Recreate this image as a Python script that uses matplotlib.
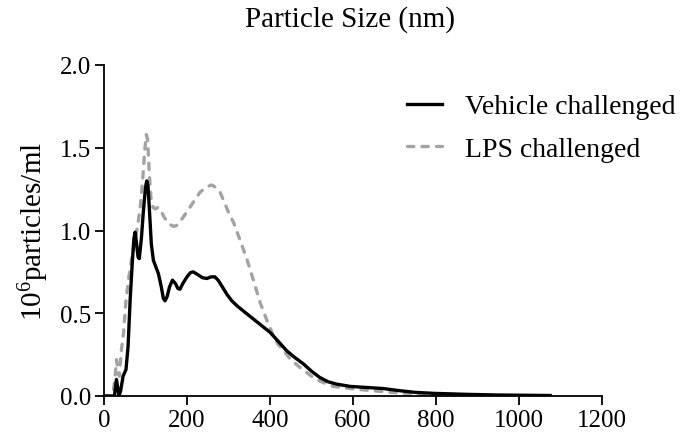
import matplotlib
matplotlib.use("Agg")
import matplotlib.pyplot as plt

# Data
vehicle_x = [0, 25, 30, 36, 40, 46, 53, 58, 63, 68, 72, 75, 78, 82, 85, 90, 95, 100, 103, 106,
             110, 114, 119, 125, 131, 138, 143, 147, 152, 158, 165, 172, 178, 183, 190, 200, 208,
             215, 225, 237, 248, 258, 267, 275, 285, 296, 308, 320, 340, 360, 380, 400, 420, 440,
             460, 480, 500, 520, 540, 560, 593, 630, 673, 713, 750, 794, 874, 950, 1075]
vehicle_y = [0, 0, 0.10, 0.0, 0.03, 0.12, 0.16, 0.30, 0.58, 0.80, 0.95, 0.99, 0.93, 0.84, 0.83,
             0.95, 1.12, 1.26, 1.30, 1.27, 1.10, 0.92, 0.82, 0.78, 0.74, 0.66, 0.59, 0.575, 0.60,
             0.66, 0.70, 0.68, 0.65, 0.645, 0.68, 0.72, 0.745, 0.75, 0.735, 0.715, 0.71, 0.72,
             0.72, 0.70, 0.66, 0.615, 0.575, 0.546, 0.505, 0.465, 0.425, 0.385, 0.33, 0.274,
             0.232, 0.195, 0.15, 0.112, 0.086, 0.072, 0.058, 0.052, 0.045, 0.032, 0.022, 0.016,
             0.01, 0.006, 0.003]

lps_x = [0, 18, 22, 27, 30, 34, 37, 42, 47, 53, 60, 66, 71, 78, 84, 88, 93, 98, 102, 105, 109,
         113, 118, 124, 130, 137, 145, 152, 160, 168, 175, 185, 199, 215, 231, 245, 259, 270,
         280, 290, 300, 312, 328, 344, 360, 376, 392, 408, 420, 433, 450, 472, 500, 520, 552,
         593, 630, 673, 713, 753, 794, 850]
lps_y = [0, 0, 0.02, 0.12, 0.22, 0.15, 0.12, 0.28, 0.38, 0.58, 0.72, 0.82, 0.89, 0.98, 1.08,
         1.16, 1.30, 1.48, 1.58, 1.55, 1.35, 1.20, 1.14, 1.13, 1.14, 1.12, 1.08, 1.055, 1.035,
         1.025, 1.03, 1.06, 1.11, 1.17, 1.23, 1.26, 1.275, 1.26, 1.23, 1.17, 1.11, 1.05, 0.94,
         0.83, 0.70, 0.566, 0.46, 0.365, 0.31, 0.274, 0.22, 0.173, 0.12, 0.09, 0.058, 0.045,
         0.036, 0.026, 0.018, 0.012, 0.005, 0.002]

x_ticks = [0, 200, 400, 600, 800, 1000, 1200]
y_ticks = [0.0, 0.5, 1.0, 1.5, 2.0]
series_labels = ["Vehicle challenged", "LPS challenged"]
title = "Particle Size (nm)"
ylabel = r"$\mathregular{10^6}$particles/ml"

plt.rcParams['font.family'] = ['Liberation Serif', 'DejaVu Serif']
plt.rcParams['mathtext.fontset'] = 'custom'
plt.rcParams['mathtext.rm'] = 'Liberation Serif'

fig = plt.figure(figsize=(6.85, 4.39), dpi=100)
ax = fig.add_axes([104/685, 42/439, (602-104)/685, (397-66)/439])

ax.plot(vehicle_x, vehicle_y, color='black', lw=2.4, label=series_labels[0], zorder=3,
        solid_joinstyle='round')
ax.plot(lps_x, lps_y, color='#a3a3a3', lw=2.4, ls=(0, (1.9, 2.45)), dash_capstyle='round',
        label=series_labels[1], zorder=2)

ax.set_xlim(0, 1200)
ax.set_ylim(0, 2.0)
ax.set_xticks(x_ticks)
ax.set_yticks(y_ticks)
ax.set_yticklabels([f"{v:.1f}" for v in y_ticks])
for s in ['top', 'right']:
    ax.spines[s].set_visible(False)
for s in ['left', 'bottom']:
    ax.spines[s].set_linewidth(1.3)
ax.tick_params(direction='out', length=6.5, width=1.3, labelsize=18, pad=3)

ax.set_ylabel(ylabel, fontsize=21, labelpad=6)
fig.text(350/685, 1 - 20/439, title, ha='center', va='center', fontsize=21)

leg = ax.legend(loc='upper left', bbox_to_anchor=(407/685, 1 - 95/439),
                bbox_transform=fig.transFigure, frameon=False, fontsize=20,
                handlelength=1.26, handletextpad=0.83, labelspacing=0.62, borderpad=0,
                borderaxespad=0)

fig.savefig("out.png", dpi=100)
